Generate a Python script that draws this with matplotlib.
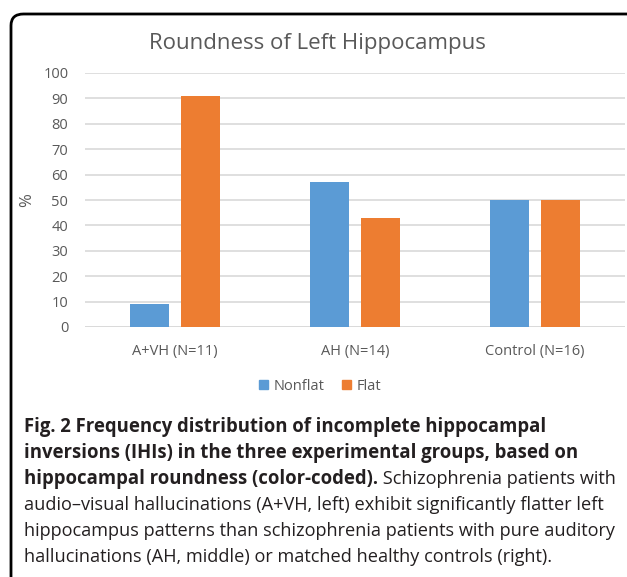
import matplotlib
matplotlib.use("Agg")
import matplotlib.pyplot as plt
from matplotlib.patches import FancyBboxPatch, Patch
import numpy as np

# ---- data ----
groups = ["A+VH (N=11)", "AH (N=14)", "Control (N=16)"]
nonflat = [9.09, 57.14, 50.0]
flat = [90.91, 42.86, 50.0]
series_names = ["Nonflat", "Flat"]
yticks = [0, 10, 20, 30, 40, 50, 60, 70, 80, 90, 100]
title = "Roundness of Left Hippocampus"
ylabel = "%"
caption_bold = ["Fig. 2 Frequency distribution of incomplete hippocampal",
                "inversions (IHIs) in the three experimental groups, based on",
                "hippocampal roundness (color-coded)."]
caption_regular_tail = " Schizophrenia patients with"
caption_regular = ["audio\u2013visual hallucinations (A+VH, left) exhibit significantly flatter left",
                   "hippocampus patterns than schizophrenia patients with pure auditory",
                   "hallucinations (AH, middle) or matched healthy controls (right)."]

BLUE = "#5B9BD5"
ORANGE = "#ED7D31"
GRAY = "#595959"
GRID = "#D9D9D9"
CAP = "#231F20"

W, H = 627, 577
DPI = 100
fig = plt.figure(figsize=(W / DPI, H / DPI), dpi=DPI)
plt.rcParams['font.family'] = ['Open Sans', 'DejaVu Sans']

def fx(px):
    return px / W

def fy(py):
    return 1 - py / H

# border (rounded, cut off at right/bottom)
border = FancyBboxPatch((fx(11), fy(700)), fx(700), fy(14) - fy(700),
                        boxstyle="round,pad=0,rounding_size=0.02",
                        transform=fig.transFigure, fill=False,
                        edgecolor="black", linewidth=2.0, clip_on=False)
fig.patches.append(border)

# axes
left, right, top, bottom = 85, 625, 73, 327
ax = fig.add_axes([fx(left), fy(bottom), fx(right - left), fy(top) - fy(bottom)])
x = np.arange(len(groups))
bw = 0.215
off = 0.143
ax.bar(x - off, nonflat, bw, color=BLUE, zorder=3)
ax.bar(x + off, flat, bw, color=ORANGE, zorder=3)
ax.set_xlim(-0.5, 2.5)
ax.set_ylim(0, 100)
ax.set_yticks(yticks)
ax.set_yticklabels([str(t) for t in yticks])
ax.set_xticks(x)
ax.set_xticklabels(groups)
for s in ax.spines.values():
    s.set_visible(False)
ax.grid(axis='y', color=GRID, linewidth=1.2, zorder=0)
ax.set_axisbelow(True)
ax.tick_params(axis='y', length=0, pad=12, labelsize=10.5, labelcolor=GRAY)
ax.tick_params(axis='x', length=0, pad=12, labelsize=10.5, labelcolor=GRAY)
ax.axhline(0, color=GRID, linewidth=1.2, zorder=1)

fig.text(fx(317), fy(43), title, ha='center', va='center', fontsize=16, color=GRAY)
fig.text(fx(27), fy(200), ylabel, ha='center', va='center', rotation=90, fontsize=12, color=GRAY)

handles = [Patch(color=BLUE), Patch(color=ORANGE)]
fig.legend(handles, series_names, loc='center', bbox_to_anchor=(fx(320), fy(386)),
           ncol=2, frameon=False, fontsize=10.5, handlelength=0.6, handleheight=0.6,
           handletextpad=0.4, columnspacing=1.2, labelcolor=GRAY)

# caption
cx = 24
right_px = 614
baselines = [432, 458, 484, 510, 536, 562]
r = fig.canvas.get_renderer()

def width_at(text, weight, size):
    t = fig.text(0, 0, text, fontsize=size, fontweight=weight)
    w = t.get_window_extent(renderer=r).width
    t.remove()
    return w

base = 12.0
reg_fs = min(base * (right_px - cx) / width_at(s, 'normal', base) for s in caption_regular[:2])
tail_w = width_at(caption_regular_tail, 'normal', reg_fs)
bold_fs = min(base * (585 - cx) / width_at(caption_bold[1], 'bold', base),
              base * (right_px - cx - tail_w) / width_at(caption_bold[2], 'bold', base))

for i, line in enumerate(caption_bold):
    t = fig.text(fx(cx), fy(baselines[i]), line, ha='left', va='baseline',
                 fontsize=bold_fs, fontweight='bold', color=CAP)
bb = t.get_window_extent(renderer=r)
fig.text(bb.x1 / W, fy(baselines[2]), caption_regular_tail, ha='left', va='baseline',
         fontsize=reg_fs, color=CAP)
for j, line in enumerate(caption_regular):
    fig.text(fx(cx), fy(baselines[3 + j]), line, ha='left', va='baseline',
             fontsize=reg_fs, color=CAP)

fig.savefig("out.png", dpi=DPI)
